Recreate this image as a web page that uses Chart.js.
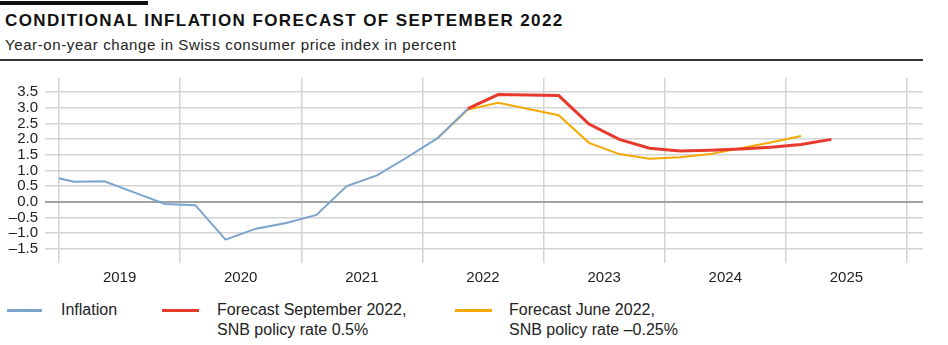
<!DOCTYPE html>
<html>
<head>
<meta charset="utf-8">
<script src="https://cdn.jsdelivr.net/npm/chart.js@4"></script>
<style>
  body { margin: 0; background: #fff; font-family: "Liberation Sans", Arial, sans-serif; color: #222; }
  #page { position: relative; width: 948px; height: 345px; overflow: hidden; }
  .bar { position: absolute; left: 0; top: 1px; width: 148px; height: 4px; background: #111; }
  .title { position: absolute; left: 5px; top: 11px; font-weight: bold; font-size: 17px; letter-spacing: 1.4px; color: #111; white-space: nowrap; }
  .subtitle { position: absolute; left: 5px; top: 36px; font-size: 15px; letter-spacing: 0.6px; color: #222; white-space: nowrap; }
  .rule { position: absolute; left: 0; top: 59px; width: 923px; height: 1.5px; background: #333; }
  #wrap { position: absolute; left: 0; top: 62px; width: 948px; height: 230px; }
  .leg { position: absolute; font-size: 16px; line-height: 19.5px; color: #222; white-space: nowrap; }
  .sw { position: absolute; height: 2.5px; }
</style>
</head>
<body>
<div id="page">
  <div class="bar"></div>
  <div class="title">CONDITIONAL INFLATION FORECAST OF SEPTEMBER 2022</div>
  <div class="subtitle">Year-on-year change in Swiss consumer price index in percent</div>
  <div class="rule"></div>
  <div id="wrap"><canvas id="chart"></canvas></div>

  <div class="sw" style="left:7px;top:309px;width:35px;background:#7ba3cc"></div>
  <div class="leg" style="left:61px;top:300px">Inflation</div>
  <div class="sw" style="left:162px;top:309px;width:37px;background:#e8392d;height:3px"></div>
  <div class="leg" style="left:217px;top:300px">Forecast September 2022,<br>SNB policy rate 0.5%</div>
  <div class="sw" style="left:455px;top:309px;width:37px;background:#f5a800"></div>
  <div class="leg" style="left:509px;top:300px">Forecast June 2022,<br>SNB policy rate –0.25%</div>
</div>
<script>
// quarters, one point each
const quarters = ['2018 Q4',
  '2019 Q1', '2019 Q2', '2019 Q3', '2019 Q4',
  '2020 Q1', '2020 Q2', '2020 Q3', '2020 Q4',
  '2021 Q1', '2021 Q2', '2021 Q3', '2021 Q4',
  '2022 Q1', '2022 Q2', '2022 Q3', '2022 Q4',
  '2023 Q1', '2023 Q2', '2023 Q3', '2023 Q4',
  '2024 Q1', '2024 Q2', '2024 Q3', '2024 Q4',
  '2025 Q1', '2025 Q2'];

const inflation = [0.85,
  0.64, 0.65, 0.29, -0.07,
  -0.11, -1.21, -0.86, -0.68,
  -0.42, 0.50, 0.84, 1.42,
  2.03, 2.97];

const forecastSep = [null,
  null, null, null, null,
  null, null, null, null,
  null, null, null, null,
  null, 2.97, 3.42, 3.41,
  3.39, 2.48, 1.99, 1.71,
  1.62, 1.64, 1.68, 1.74,
  1.83, 1.99];

const forecastJun = [null,
  null, null, null, null,
  null, null, null, null,
  null, null, null, null,
  2.03, 2.94, 3.16, 2.96,
  2.76, 1.88, 1.52, 1.37,
  1.42, 1.52, 1.71, 1.89,
  2.10];

const years = [2019, 2020, 2021, 2022, 2023, 2024, 2025];
const yTicks = [-1.5, -1.0, -0.5, 0.0, 0.5, 1.0, 1.5, 2.0, 2.5, 3.0, 3.5];

// quarter label -> position on a continuous year axis (middle of the quarter)
function qx(label) {
  const [y, q] = label.split(' Q');
  return Number(y) + (Number(q) - 0.5) / 4;
}
function toPoints(values) {
  return quarters.map((q, i) => ({ x: qx(q), y: values[i] === undefined ? null : values[i] }));
}

const font = { family: '"Liberation Sans", Arial, sans-serif', size: 15 };
const lineStyle = { pointRadius: 0, tension: 0, spanGaps: false, clip: { left: -14, top: 5, right: 0, bottom: 5 } };

new Chart(document.getElementById('chart'), {
  type: 'line',
  data: {
    datasets: [
      Object.assign({ label: 'Inflation', data: toPoints(inflation), borderColor: '#7ba3cc', borderWidth: 2, order: 0 }, lineStyle),
      Object.assign({ label: 'Forecast September 2022, SNB policy rate 0.5%', data: toPoints(forecastSep), borderColor: '#e8392d', borderWidth: 3, order: 1 }, lineStyle),
      Object.assign({ label: 'Forecast June 2022, SNB policy rate –0.25%', data: toPoints(forecastJun), borderColor: '#f5a800', borderWidth: 2, order: 2 }, lineStyle)
    ]
  },
  options: {
    responsive: true,
    maintainAspectRatio: false,
    animation: false,
    layout: { padding: { top: 10.8, right: 25, bottom: 0, left: 0 } },
    plugins: { legend: { display: false }, tooltip: { enabled: false } },
    scales: {
      x: {
        type: 'linear',
        min: 2018.8844,
        max: 2026.1321,
        afterBuildTicks: s => {
          const t = [];
          years.forEach(y => { t.push({ value: y }); t.push({ value: y + 0.5 }); });
          t.push({ value: years[years.length - 1] + 1 });
          s.ticks = t;
        },
        afterFit: s => { s.height = 29.2; },
        border: { display: false },
        grid: {
          drawTicks: false,
          color: c => Number.isInteger(c.tick.value) ? '#d3d3d3' : 'rgba(0,0,0,0)',
          lineWidth: 1.5
        },
        ticks: {
          autoSkip: false, maxRotation: 0, padding: 6, color: '#222', font: font,
          callback: v => Number.isInteger(v) ? '' : String(Math.floor(v))
        }
      },
      y: {
        min: -1.95,
        max: 3.95,
        afterBuildTicks: s => { s.ticks = yTicks.map(v => ({ value: v })); },
        afterFit: s => { s.width = 45; },
        border: { display: false },
        grid: {
          drawTicks: false,
          color: c => c.tick.value === 0 ? '#a3a3a3' : '#d3d3d3',
          lineWidth: c => c.tick.value === 0 ? 2 : 1.5
        },
        ticks: {
          autoSkip: false, padding: 7, color: '#222', font: font,
          callback: v => v.toFixed(1).replace('-', '–')
        }
      }
    }
  }
});
</script>
</body>
</html>
